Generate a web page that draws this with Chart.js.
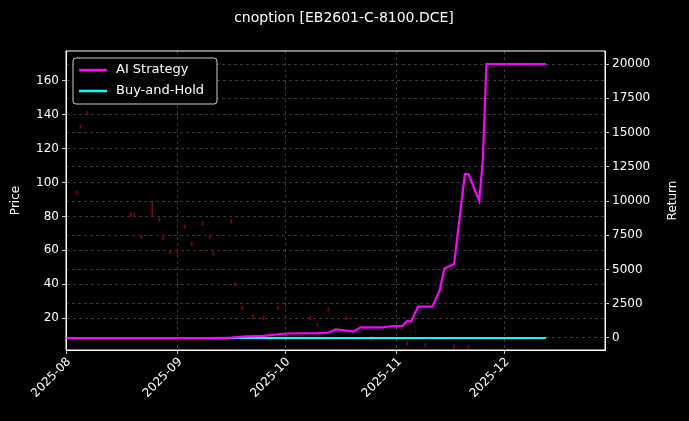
<!DOCTYPE html>
<html>
<head>
<meta charset="utf-8">
<script src="https://cdn.jsdelivr.net/npm/chart.js@4"></script>
<style>
html,body{margin:0;padding:0;background:#000;}
#wrap{width:689px;height:421px;}
</style>
</head>
<body>
<div id="wrap"><canvas id="c" width="689" height="421"></canvas></div>
<script>
// days since 2025-08-01
const monthTicks = [0, 31, 61, 92, 122];
const monthLabels = ["2025-08", "2025-09", "2025-10", "2025-11", "2025-12"];

// candles (tiny), day / low / high
const candleDays = [3, 4, 6, 18, 19, 21, 24, 26, 27, 29, 31, 33, 35, 38, 40, 41, 46, 47, 49, 52, 55, 59, 68, 70, 73, 78, 85, 95, 100, 108, 112];
const candleLow  = [93, 132, 140, 80, 80, 67, 80, 77, 66, 58, 58, 73, 63, 75, 67, 57, 76, 39, 25, 20, 19, 25, 19, 15, 24, 19, 7, 4, 3, 2, 2];
const candleHigh = [95, 134, 142, 82, 82, 69, 89, 79, 68, 60, 60, 75, 65, 77, 69, 59, 78, 41, 27, 22, 21, 27, 21, 17, 26, 21, 9, 6, 5, 4, 4];

// strategy equity curve
const retDays = [0, 10, 20, 30, 40, 46, 50, 55, 61, 70, 73, 75, 77, 80, 82, 88, 91, 93.7, 95, 96, 98, 102, 104, 105.3, 108, 111, 112, 115, 116, 117, 133.6];
const aiReturn = [0, 0, 0, 0, 0, 30, 120, 160, 330, 360, 390, 635, 580, 460, 780, 780, 875, 875, 1260, 1190, 2285, 2285, 3500, 5080, 5400, 11970, 11970, 10020, 13000, 20000, 20000];
const bhDays = [0, 133.6];
const bhReturn = [0, 0];

const candleData = candleDays.map((d, i) => ({x: d, y: [candleLow[i], candleHigh[i]]}));
const aiData = retDays.map((d, i) => ({x: d, y: aiReturn[i]}));
const bhData = bhDays.map((d, i) => ({x: d, y: bhReturn[i]}));

const FONT = "'DejaVu Sans'";
const grid = {color: "rgba(180,180,180,0.4)", lineWidth: 0.8, tickColor: "#fff", tickLength: 4, drawTicks: true};
const fixedSize = (w, h) => (s) => { if (w) s.width = w; if (h) s.height = h; };

const frame = {
    id: "frame",
    afterDatasetsDraw(chart) {
        const {ctx, chartArea: a} = chart;
        ctx.save();
        ctx.strokeStyle = "#fff";
        ctx.lineWidth = 1;
        ctx.strokeRect(a.left, a.top, a.right - a.left, a.bottom - a.top);
        ctx.fillStyle = "#fff";
        // title
        ctx.font = "14px " + FONT;
        ctx.textAlign = "center";
        ctx.textBaseline = "middle";
        ctx.fillText("cnoption [EB2601-C-8100.DCE]", 344, 18);
        // axis titles (both read bottom-to-top)
        ctx.font = "12px " + FONT;
        [["Price", 16], ["Return", 673]].forEach(([t, x]) => {
            ctx.save();
            ctx.translate(x, (a.top + a.bottom) / 2);
            ctx.rotate(-Math.PI / 2);
            ctx.fillText(t, 0, 0);
            ctx.restore();
        });
        // rotated x labels, right end at tick
        const xs = chart.scales.x;
        monthTicks.forEach((v, i) => {
            ctx.save();
            ctx.translate(xs.getPixelForValue(v) + 3, a.bottom + 10);
            ctx.rotate(-Math.PI / 4);
            ctx.textAlign = "right";
            ctx.textBaseline = "middle";
            ctx.fillText(monthLabels[i], 0, 0);
            ctx.restore();
        });
        // legend box
        const x0 = a.left + 7, y0 = a.top + 7;
        ctx.fillStyle = "rgba(0,0,0,0.85)";
        ctx.strokeStyle = "#ccc";
        ctx.beginPath();
        ctx.roundRect(x0, y0, 144, 46, 3);
        ctx.fill(); ctx.stroke();
        const items = [["AI Strategy", "#ff00ff"], ["Buy-and-Hold", "#00ffff"]];
        ctx.font = "13px " + FONT;
        ctx.textAlign = "left";
        items.forEach((it, i) => {
            const yy = y0 + 12 + i * 21;
            ctx.strokeStyle = it[1];
            ctx.lineWidth = 2.5;
            ctx.beginPath();
            ctx.moveTo(x0 + 6, yy); ctx.lineTo(x0 + 34, yy); ctx.stroke();
            ctx.fillStyle = "#fff";
            ctx.fillText(it[0], x0 + 43, yy);
        });
        ctx.restore();
    }
};

new Chart(document.getElementById("c"), {
    type: "bar",
    data: {
        datasets: [
            {type: "line", label: "AI Strategy", data: aiData, yAxisID: "yR", borderColor: "#ff00ff", borderWidth: 2.2, pointRadius: 0, tension: 0},
            {type: "line", label: "Buy-and-Hold", data: bhData, yAxisID: "yR", borderColor: "#00ffff", borderWidth: 2.2, pointRadius: 0},
            {type: "bar", label: "candles", data: candleData, yAxisID: "y", backgroundColor: "#8a0018", barThickness: 1}
        ]
    },
    options: {
        responsive: false,
        animation: false,
        layout: {padding: {top: 51, left: 0, right: 0, bottom: 0}},
        plugins: {legend: {display: false}, tooltip: {enabled: false}, title: {display: false}},
        scales: {
            x: {
                type: "linear", min: 0, max: 150, offset: false,
                afterBuildTicks: s => { s.ticks = monthTicks.map(v => ({value: v})); },
                afterFit: fixedSize(null, 71),
                ticks: {color: "#fff", callback: () => ""},
                grid: {...grid, offset: false},
                border: {color: "#fff", dash: [3, 3]}
            },
            y: {
                position: "left", min: 1.1, max: 177.7,
                afterBuildTicks: s => { s.ticks = [20, 40, 60, 80, 100, 120, 140, 160].map(v => ({value: v})); },
                afterFit: fixedSize(66, null),
                ticks: {color: "#fff", font: {size: 12, family: "DejaVu Sans"}, callback: v => String(v)},
                grid: {...grid},
                border: {color: "#fff", dash: [3, 3]}
            },
            yR: {
                position: "right", min: -876, max: 20949,
                afterBuildTicks: s => { s.ticks = [0, 2500, 5000, 7500, 10000, 12500, 15000, 17500, 20000].map(v => ({value: v})); },
                afterFit: fixedSize(84, null),
                ticks: {color: "#fff", font: {size: 12, family: "DejaVu Sans"}, callback: v => String(v)},
                grid: {...grid},
                border: {color: "#fff", dash: [3, 3]}
            }
        }
    },
    plugins: [frame]
});
</script>
</body>
</html>
